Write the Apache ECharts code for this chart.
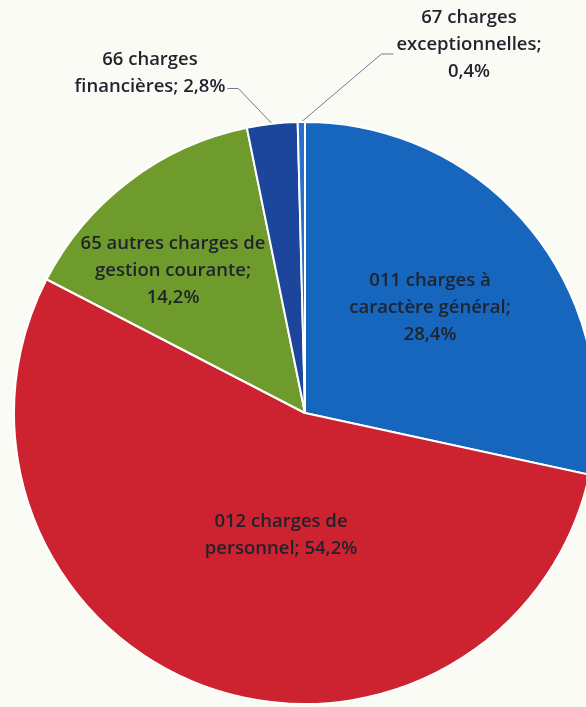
<!DOCTYPE html>
<html>
<head>
<meta charset="utf-8">
<script src="https://cdn.jsdelivr.net/npm/echarts@6/dist/echarts.min.js"></script>
<style>
  html, body { margin: 0; padding: 0; background: #fbfbf6; }
  #chart { width: 586px; height: 707px; }
</style>
</head>
<body>
<div id="chart"></div>
<script>
// Budget chapters (charges) and their share of total expenses, in %
const categories = [
  '011 charges à\ncaractère général',
  '012 charges de\npersonnel',
  '65 autres charges de\ngestion courante',
  '66 charges\nfinancières',
  '67 charges\nexceptionnelles'
];
const shares = [28.4, 54.2, 14.2, 2.8, 0.4];
const separators = [';\n', '; ', ';\n', '; ', ';\n'];
const colors = ['#1766bd', '#cd2230', '#6f9b2c', '#1c459c', '#2a6fca'];

// Where each label block is centred (label placement only)
const labelSpots = [
  { x: 430, y: 308 },
  { x: 281, y: 535 },
  { x: 173, y: 271 },
  { x: 150, y: 73 },
  { x: 469, y: 45 }
];
const outside = [false, false, false, true, true];

const LINE_H = 27;
const chart = echarts.init(document.getElementById('chart'), null, { renderer: 'canvas' });

const fmt = v => v.toFixed(1).replace('.', ',') + '%';

chart.setOption({
  backgroundColor: '#fbfbf6',
  animation: false,
  series: [{
    type: 'pie',
    center: [305, 413],
    radius: 291,
    startAngle: 90,
    clockwise: true,
    avoidLabelOverlap: false,
    itemStyle: { borderColor: '#ffffff', borderWidth: 2 },
    label: {
      fontFamily: 'Open Sans, Noto Sans, sans-serif',
      fontSize: 18.5,
      fontWeight: 600,
      color: '#1f232b',
      lineHeight: LINE_H,
      align: 'center'
    },
    labelLine: {
      lineStyle: { color: '#6d7d94', width: 1 },
      length: 30,
      length2: 12
    },
    labelLayout: function (params) {
      const i = params.dataIndex;
      const s = labelSpots[i];
      const out = { x: s.x, y: s.y, align: 'center', verticalAlign: 'middle' };
      const pts = params.labelLinePoints;
      if (outside[i] && pts && pts.length) {
        const w = params.labelRect.width;
        const anchor = pts[0];
        if (anchor[0] < s.x + w / 2) {
          // label sits to the right of its slice: line enters from the left
          const yEnd = s.y + 9;
          const xEnd = s.x - w / 2 - 3;
          out.labelLinePoints = [anchor, [xEnd - 12, yEnd], [xEnd, yEnd]];
        } else {
          // label sits to the left: line leaves from the end of the last line
          const yEnd = s.y + LINE_H / 2 + 2;
          const xEnd = s.x + w / 2 + 2;
          out.labelLinePoints = [anchor, [xEnd + 11, yEnd], [xEnd, yEnd]];
        }
      }
      return out;
    },
    data: categories.map((name, i) => ({
      name: name,
      value: shares[i],
      itemStyle: { color: colors[i] },
      label: {
        position: outside[i] ? 'outside' : 'inside',
        formatter: p => p.name + separators[p.dataIndex] + fmt(p.value)
      },
      labelLine: { show: outside[i] }
    }))
  }]
});
</script>
</body>
</html>
